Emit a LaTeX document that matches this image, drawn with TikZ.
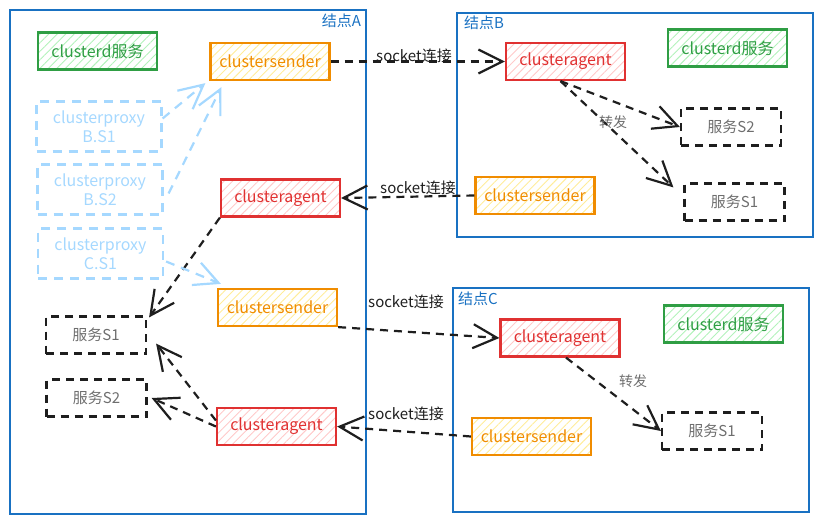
\documentclass[tikz,border=0pt]{standalone}
\usepackage{fontspec}
\setmainfont{Noto Sans CJK SC}
\usetikzlibrary{arrows.meta, positioning, patterns.meta}
\definecolor{greenline}{HTML}{2F9E44}
\definecolor{greenfill}{HTML}{B2F2BB}
\definecolor{orangeline}{HTML}{F08C00}
\definecolor{orangefill}{HTML}{FFEC99}
\definecolor{redline}{HTML}{E03131}
\definecolor{redfill}{HTML}{FFC9C9}
\definecolor{frameblue}{HTML}{1971C2}
\definecolor{proxyblue}{HTML}{A5D8FF}
\definecolor{inkblack}{HTML}{1E1E1E}
\definecolor{svcgray}{HTML}{6E6E6E}

\begin{document}
\begin{tikzpicture}[
    x=1pt, y=-1pt,
    hbox/.style={draw, line width=2.2pt, minimum width=119pt, minimum height=37pt,
                 inner sep=0pt, align=center, font=\fontsize{16}{18}\selectfont},
    clusterd/.style={hbox, draw=greenline, text=greenline,
                     pattern={Lines[angle=45, distance=6pt, line width=0.9pt]}, pattern color=greenfill},
    sender/.style={hbox, draw=orangeline, text=orangeline,
                   pattern={Lines[angle=45, distance=6pt, line width=0.9pt]}, pattern color=orangefill},
    agent/.style={hbox, draw=redline, text=redline,
                  pattern={Lines[angle=45, distance=6pt, line width=0.9pt]}, pattern color=redfill},
    svc/.style={hbox, draw=inkblack, dash pattern=on 8pt off 6pt, minimum width=100pt,
                text=svcgray, font=\fontsize{15}{17}\selectfont},
    proxy/.style={hbox, draw=proxyblue, dash pattern=on 9pt off 7pt, minimum width=125pt,
                  minimum height=50pt, text=proxyblue, font=\fontsize{16}{19}\selectfont},
    frame/.style={draw=frameblue, line width=2.4pt, inner sep=0pt},
    framelbl/.style={text=frameblue, inner sep=0pt, font=\fontsize{15}{17}\selectfont},
    lbl/.style={text=inkblack, inner sep=1pt, font=\fontsize{15}{17}\selectfont},
    fwdlbl/.style={text=svcgray, inner sep=1pt, font=\fontsize{14}{16}\selectfont},
    arr/.style={-{Straight Barb[length=24pt, width=24pt, line width=2.2pt]}, line width=2.2pt, inkblack,
                dash pattern=on 8pt off 6pt},
    proxyarr/.style={arr, proxyblue, dash pattern=on 9pt off 7pt}
]
\useasboundingbox (0,0) rectangle (822,524);

% Cadres des trois noeuds
\node[frame, minimum width=356pt, minimum height=504pt] (nodeA) at (188,262) {};
\node[frame, minimum width=356pt, minimum height=224pt] (nodeB) at (635,125) {};
\node[frame, minimum width=356pt, minimum height=224pt] (nodeC) at (631,400) {};
\node[framelbl, anchor=north east] (lblA) at ([xshift=-6pt, yshift=-5pt]nodeA.north east) {结点A};
\node[framelbl, anchor=north west] (lblB) at ([xshift=8pt, yshift=-4pt]nodeB.north west) {结点B};
\node[framelbl, anchor=north west] (lblC) at ([xshift=6pt, yshift=-5pt]nodeC.north west) {结点C};

% Noeud A
\node[clusterd] (clusterdA) at (97.5,51)  {clusterd服务};
\node[sender]   (senderAa)  at (270,61.5) {clustersender};
\node[proxy]    (proxyBa)   at (99,126.5) {clusterproxy\\B.S1};
\node[proxy]    (proxyBb)   at (100,189.5) {clusterproxy\\B.S2};
\node[proxy]    (proxyCa)   at (100.5,253.5) {clusterproxy\\C.S1};
\node[agent]    (agentAa)   at (280.5,198) {clusteragent};
\node[sender]   (senderAb)  at (277.5,307.5) {clustersender};
\node[svc]      (svcAa)     at (96,335)   {服务S1};
\node[svc]      (svcAb)     at (96.5,398) {服务S2};
\node[agent]    (agentAb)   at (276.5,426.5) {clusteragent};

% Noeud B
\node[agent]    (agentB)    at (565.5,61.5) {clusteragent};
\node[clusterd] (clusterdB) at (727.5,48)   {clusterd服务};
\node[svc]      (svcBb)     at (731,127)    {服务S2};
\node[svc]      (svcBa)     at (734.5,202)  {服务S1};
\node[sender]   (senderB)   at (535,195.5)  {clustersender};

% Noeud C
\node[agent]    (agentC)    at (560,338)    {clusteragent};
\node[clusterd] (clusterdC) at (723.5,324)  {clusterd服务};
\node[svc]      (svcCa)     at (712,431)    {服务S1};
\node[sender]   (senderC)   at (531.5,436.5) {clustersender};

% Connexions socket entre noeuds
\draw[arr] (senderAa.east) -- (agentB.west);
\draw[arr] (senderB.west) -- (agentAa.east);
\draw[arr] (senderAb.south east) -- (agentC.west);
\draw[arr] (senderC.west) -- (agentAb.east);
\node[lbl] (sockAB) at (414,56)  {socket连接};
\node[lbl] (sockBA) at (418,188) {socket连接};
\node[lbl] (sockAC) at (406,302) {socket连接};
\node[lbl] (sockCA) at (406,414) {socket连接};

% Transferts vers les services
\draw[arr] ([xshift=-5pt]agentB.south) -- (svcBb.west);
\draw[arr] ([xshift=-5pt]agentB.south) -- ([xshift=-10pt, yshift=-5pt]svcBa.north west);
\draw[arr] ([xshift=6pt]agentC.south) -- (svcCa.west);
\node[fwdlbl] (fwdB) at (613,122) {转发};
\node[fwdlbl] (fwdC) at (633,381) {转发};

\draw[arr] (agentAa.south west) -- ([xshift=2pt, yshift=-2pt]svcAa.north east);
\draw[arr] ([yshift=6pt]agentAb.west) -- ([xshift=9pt, yshift=11pt]svcAa.south east);
\draw[arr] (agentAb.west) -- ([xshift=4pt]svcAb.east);

% Proxies vers clustersender
\draw[proxyarr] ([yshift=8pt]proxyBa.east) -- ([xshift=-4pt, yshift=-2pt]senderAa.south west);
\draw[proxyarr] ([xshift=5pt, yshift=-4pt]proxyBb.east) -- ([xshift=12pt, yshift=-6pt]senderAa.south west);
\draw[proxyarr] ([xshift=2pt, yshift=-8pt]proxyCa.east) -- ([xshift=4pt, yshift=4pt]senderAb.north west);

\end{tikzpicture}
\end{document}
